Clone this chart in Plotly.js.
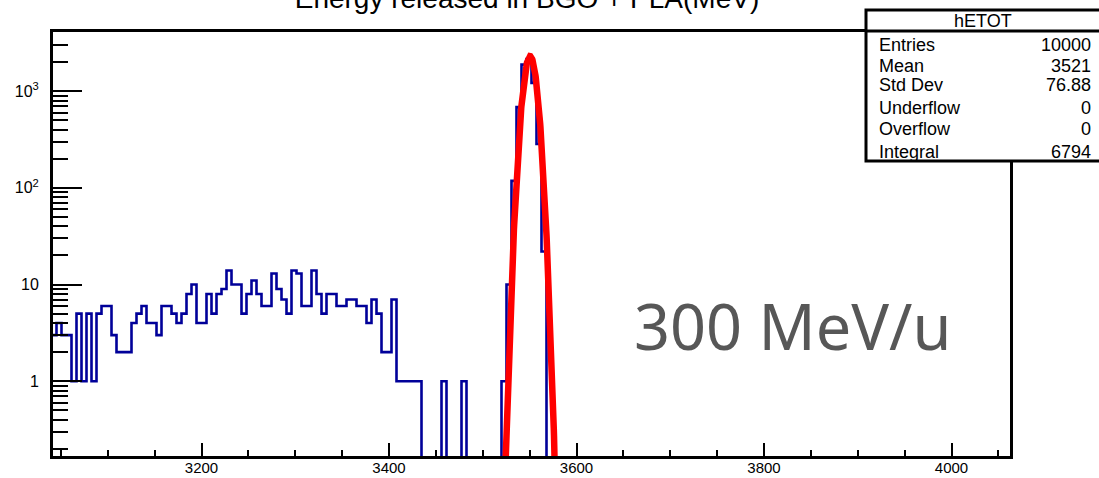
<!DOCTYPE html>
<html>
<head>
<meta charset="utf-8">
<script src="https://cdn.plot.ly/plotly-3.0.1.min.js"></script>
<style>
  html, body { margin: 0; padding: 0; background: #fff; }
  #plot { width: 1099px; height: 478px; }
</style>
</head>
<body>
<div id="plot"></div>
<script>
// hETOT: total energy deposit, fixed-width bins starting at BIN_LOW
const BIN_LOW = 3040;
const BIN_WIDTH = 16 / 3;
const binCounts = [
  3, 4, 3, 3, 1, 5, 1, 5, 1, 5,
  6, 6, 3, 2, 2, 2, 4, 5, 6, 4,
  4, 3, 6, 6, 5, 4, 5, 8, 10, 4,
  4, 8, 5, 8, 9, 14, 10, 10, 5, 8,
  11, 8, 6, 6, 13, 9, 7, 5, 14, 13,
  6, 6, 14, 8, 5, 8, 8, 6, 6, 7,
  7, 6, 6, 4, 7, 5, 2, 2, 7, 1,
  1, 1, 1, 1, 0, 0, 0, 0, 1, 0,
  0, 0, 1, 0, 0, 0, 0, 0, 0, 0,
  1, 10, 118, 684, 1880, 2150, 1220, 284, 22, 0
];

// Gaussian fit parameters
const FIT_CONST = 2300;
const FIT_MEAN = 3550.5;
const FIT_SIGMA = 6.0;
const FIT_RANGE = [3505, 3595];

// statistics box
const statsTitle = 'hETOT';
const statsLabels = ['Entries', 'Mean', 'Std Dev', 'Underflow', 'Overflow', 'Integral'];
const statsValues = ['10000', '3521', '76.88', '0', '0', '6794'];

const xTickVals = [3200, 3400, 3600, 3800, 4000];
const yTickVals = [1, 10, 100, 1000];
const yTickText = ['1', '10', '10<sup>2</sup>', '10<sup>3</sup>'];
const yMinorVals = [0.2, 0.3, 0.4, 0.5, 0.6, 0.7, 0.8, 0.9,
  2, 3, 4, 5, 6, 7, 8, 9, 20, 30, 40, 50, 60, 70, 80, 90,
  200, 300, 400, 500, 600, 700, 800, 900, 2000, 3000, 4000];

// step outline: empty bins are pushed below the log axis floor and clipped
const LOG_FLOOR = 1e-3;
const histX = [], histY = [];
binCounts.forEach((c, i) => {
  histX.push(BIN_LOW + i * BIN_WIDTH);
  histY.push(c > 0 ? c : LOG_FLOOR);
});
histX.push(BIN_LOW + binCounts.length * BIN_WIDTH);
histY.push(histY[histY.length - 1]);

const fitX = [], fitY = [];
for (let x = FIT_RANGE[0]; x <= FIT_RANGE[1]; x += 0.25) {
  fitX.push(x);
  fitY.push(FIT_CONST * Math.exp(-0.5 * Math.pow((x - FIT_MEAN) / FIT_SIGMA, 2)));
}

const FONT = 'Liberation Sans, Arial, Helvetica, sans-serif';
const W = 1099, H = 478;
const M = { l: 53, r: 89, t: 32, b: 22 };
const PW = W - M.l - M.r, PH = H - M.t - M.b;
const px = v => (v - M.l) / PW;   // pixel column -> paper x
const py = v => (H - M.b - v) / PH; // pixel row -> paper y

const annotations = [];
annotations.push({
  xref: 'paper', yref: 'paper', x: px(983), y: py(21.5),
  text: statsTitle, showarrow: false, xanchor: 'center', yanchor: 'middle',
  font: { family: FONT, size: 18, color: '#000' }
});
const rowY = [45, 66, 84.5, 108, 128.5, 151.5];
statsLabels.forEach((lab, i) => {
  annotations.push({
    xref: 'paper', yref: 'paper', x: px(877), y: py(rowY[i]),
    text: lab, showarrow: false, xanchor: 'left', yanchor: 'middle',
    font: { family: FONT, size: 18, color: '#000' }
  });
  annotations.push({
    xref: 'paper', yref: 'paper', x: px(1093), y: py(rowY[i]),
    text: statsValues[i], showarrow: false, xanchor: 'right', yanchor: 'middle',
    font: { family: FONT, size: 18, color: '#000' }
  });
});
annotations.push({
  xref: 'paper', yref: 'paper', x: px(792), y: py(325),
  text: '300 MeV/u', showarrow: false, xanchor: 'center', yanchor: 'middle',
  font: { family: 'Noto Sans, sans-serif', size: 63, color: '#575757' }
});

const shapes = [
  { type: 'rect', xref: 'paper', yref: 'paper', layer: 'above',
    x0: px(866), x1: px(1102), y0: py(161), y1: py(10),
    fillcolor: '#ffffff', line: { color: '#000', width: 3 } },
  { type: 'line', xref: 'paper', yref: 'paper', layer: 'above',
    x0: px(866), x1: px(1102), y0: py(31), y1: py(31),
    line: { color: '#000', width: 3 } }
];

const traces = [
  { type: 'scatter', mode: 'lines', x: histX, y: histY,
    line: { shape: 'hv', color: '#000099', width: 2.6 }, hoverinfo: 'skip' },
  { type: 'scatter', mode: 'lines', x: fitX, y: fitY,
    line: { color: '#ff0000', width: 6.5 }, hoverinfo: 'skip' }
];

const layout = {
  width: W, height: H,
  margin: M,
  paper_bgcolor: '#fff', plot_bgcolor: '#fff',
  showlegend: false,
  font: { family: FONT, color: '#000' },
  title: {
    text: 'Energy released in BGO + PLA(MeV)',
    font: { family: FONT, size: 28, color: '#000' },
    xref: 'container', x: 527 / W, xanchor: 'center',
    yref: 'container', y: 1 - 7.5 / H, yanchor: 'bottom'
  },
  xaxis: {
    range: [3041.6, 4062.4],
    showgrid: false, zeroline: false,
    showline: true, linewidth: 3, linecolor: '#000', mirror: true,
    ticks: 'inside', ticklen: 13, tickwidth: 2, tickcolor: '#000',
    tickmode: 'array', tickvals: xTickVals,
    minor: { tick0: 3000, dtick: 50, ticks: 'inside', ticklen: 6.5, tickwidth: 2, tickcolor: '#000' },
    tickfont: { family: FONT, size: 15, color: '#000' },
    ticklabelstandoff: -4
  },
  yaxis: {
    type: 'log',
    range: [-0.773, 3.612],
    showgrid: false, zeroline: false,
    showline: true, linewidth: 3, linecolor: '#000', mirror: true,
    ticks: 'inside', ticklen: 29, tickwidth: 2, tickcolor: '#000',
    tickmode: 'array', tickvals: yTickVals, ticktext: yTickText,
    minor: { tickmode: 'array', tickvals: yMinorVals, ticks: 'inside', ticklen: 14.5, tickwidth: 2, tickcolor: '#000' },
    tickfont: { family: FONT, size: 16, color: '#000' },
    ticklabelstandoff: 8
  },
  shapes: shapes,
  annotations: annotations
};

Plotly.newPlot('plot', traces, layout, { displayModeBar: false, staticPlot: true });
</script>
</body>
</html>
